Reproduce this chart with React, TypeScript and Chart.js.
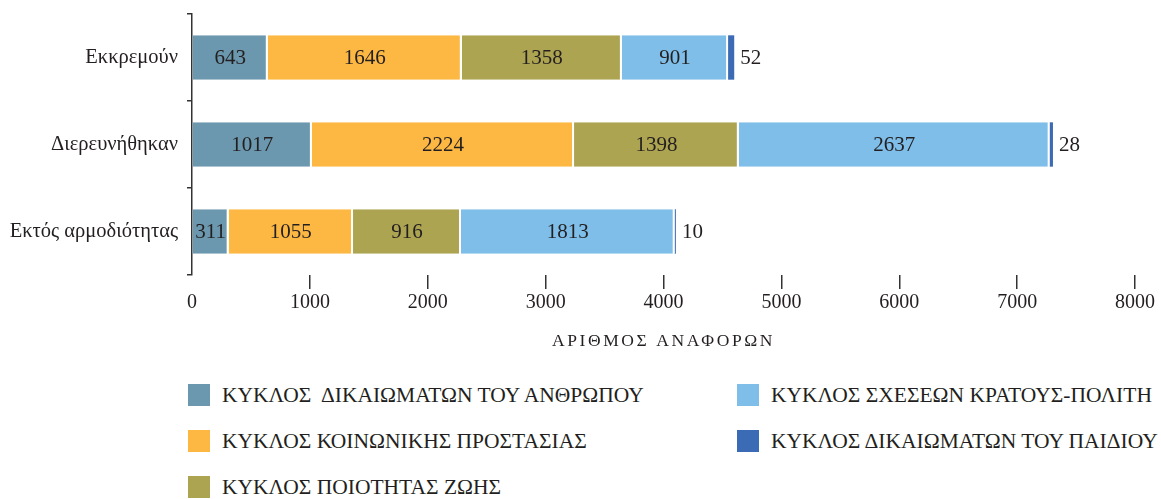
import React, { useEffect, useRef } from "react";
import { Chart, registerables } from "chart.js";

Chart.register(...registerables);

const categories = ["Εκκρεμούν", "Διερευνήθηκαν", "Εκτός αρμοδιότητας"];
const seriesNames = [
  "ΚΥΚΛΟΣ  ΔΙΚΑΙΩΜΑΤΩΝ ΤΟΥ ΑΝΘΡΩΠΟΥ",
  "ΚΥΚΛΟΣ ΚΟΙΝΩΝΙΚΗΣ ΠΡΟΣΤΑΣΙΑΣ",
  "ΚΥΚΛΟΣ ΠΟΙΟΤΗΤΑΣ ΖΩΗΣ",
  "ΚΥΚΛΟΣ ΣΧΕΣΕΩΝ ΚΡΑΤΟΥΣ-ΠΟΛΙΤΗ",
  "ΚΥΚΛΟΣ ΔΙΚΑΙΩΜΑΤΩΝ ΤΟΥ ΠΑΙΔΙΟΥ",
];
const humanRights = [643, 1017, 311];
const socialProtection = [1646, 2224, 1055];
const qualityOfLife = [1358, 1398, 916];
const stateCitizen = [901, 2637, 1813];
const childRights = [52, 28, 10];
const seriesValues = [humanRights, socialProtection, qualityOfLife, stateCitizen, childRights];
const seriesColors = ["#6B98AE", "#FDB843", "#ADA452", "#7EBEE8", "#3A6BB4"];
const xTicks = [0, 1000, 2000, 3000, 4000, 5000, 6000, 7000, 8000];
const xTitle = "ΑΡΙΘΜΟΣ ΑΝΑΦΟΡΩΝ";

const FONT = "'Liberation Serif', 'DejaVu Serif', serif";
const TEXT = "#231F20";
const CANVAS_H = 360;
const AREA_BOTTOM = 275;

const valueLabels = {
  id: "valueLabels",
  afterDatasetsDraw(chart: any) {
    const ctx = chart.ctx;
    ctx.save();
    ctx.font = `21px ${FONT}`;
    ctx.fillStyle = TEXT;
    ctx.textBaseline = "middle";
    const n = chart.data.datasets.length;
    chart.data.datasets.forEach((ds: any, di: number) => {
      const meta = chart.getDatasetMeta(di);
      meta.data.forEach((bar: any, i: number) => {
        const v = ds.data[i];
        const { x, y, base } = bar.getProps(["x", "y", "base"], true);
        const outside = di === n - 1;
        ctx.textAlign = outside ? "left" : "center";
        const tx = outside ? x + 6 : (x + base) / 2;
        ctx.fillText(String(v), tx, y + 1);
      });
    });
    ctx.restore();
  },
};

const axisTitle = {
  id: "axisTitle",
  afterDraw(chart: any) {
    const ctx = chart.ctx;
    const area = chart.chartArea;
    ctx.save();
    ctx.font = `17.5px ${FONT}`;
    ctx.fillStyle = TEXT;
    ctx.textAlign = "center";
    ctx.textBaseline = "middle";
    try {
      (ctx as any).letterSpacing = "2.6px";
    } catch (e) {}
    ctx.fillText(xTitle, (area.left + area.right) / 2, 341);
    ctx.restore();
  },
};

export default function App() {
  const canvasRef = useRef<HTMLCanvasElement | null>(null);

  useEffect(() => {
    document.body.style.margin = "0";
    const canvas = canvasRef.current;
    if (!canvas) return;
    const n = seriesValues.length;
    const chart = new Chart(canvas, {
      type: "bar",
      data: {
        labels: categories,
        datasets: seriesValues.map((vals, i) => ({
          label: seriesNames[i],
          data: vals,
          backgroundColor: seriesColors[i],
          borderColor: "#FFFFFF",
          borderWidth: i === n - 1 ? 0 : { right: 2, left: 0, top: 0, bottom: 0 },
          borderSkipped: false,
          categoryPercentage: 1,
          barPercentage: 0.51,
        })),
      },
      options: {
        indexAxis: "y",
        animation: false,
        responsive: false,
        maintainAspectRatio: false,
        layout: { padding: { top: 14, right: 26, left: 0, bottom: 0 } },
        plugins: {
          legend: { display: false },
          tooltip: { enabled: false },
        },
        scales: {
          x: {
            stacked: true,
            min: 0,
            max: 8000,
            afterBuildTicks: (scale: any) => {
              scale.ticks = xTicks.map((v) => ({ value: v }));
            },
            afterFit: (scale: any) => {
              scale.height = CANVAS_H - AREA_BOTTOM;
            },
            border: { display: false },
            grid: {
              drawOnChartArea: false,
              drawTicks: true,
              tickLength: 14,
              lineWidth: 1.5,
              color: (c: any) => (c.index === 0 ? "rgba(0,0,0,0)" : "#333"),
            },
            ticks: {
              color: TEXT,
              font: { family: FONT, size: 20 },
              padding: 2,
              maxRotation: 0,
              callback: (v: any) => String(v),
            },
            title: { display: false },
          },
          y: {
            stacked: true,
            afterFit: (scale: any) => {
              scale.width = 192;
              scale.paddingTop = 0;
              scale.paddingBottom = 0;
            },
            border: { display: true, color: "#333", width: 1.5 },
            grid: {
              drawOnChartArea: false,
              drawTicks: true,
              tickLength: 5,
              lineWidth: 1.5,
              color: "#333",
            },
            ticks: {
              color: TEXT,
              font: { family: FONT, size: 20.5 },
              padding: 9,
            },
          },
        },
      },
      plugins: [valueLabels, axisTitle],
    });
    return () => chart.destroy();
  }, []);

  const legendPos = [
    { x: 188, y: 384 },
    { x: 188, y: 430 },
    { x: 188, y: 476 },
    { x: 737, y: 384 },
    { x: 737, y: 430 },
  ];

  return (
    <div style={{ position: "relative", width: 1161, height: 499, overflow: "hidden", background: "#fff" }}>
      <canvas ref={canvasRef} width={1161} height={CANVAS_H} style={{ position: "absolute", left: 0, top: 0 }} />
      {seriesNames.map((name, i) => (
        <div
          key={name}
          style={{
            position: "absolute",
            left: legendPos[i].x,
            top: legendPos[i].y,
            height: 22,
            display: "flex",
            alignItems: "center",
            whiteSpace: "pre",
            fontFamily: FONT,
            fontSize: 21.5,
            color: TEXT,
          }}
        >
          <span style={{ display: "inline-block", width: 22, height: 22, background: seriesColors[i], marginRight: 12, flexShrink: 0 }} />
          <span>{name}</span>
        </div>
      ))}
    </div>
  );
}
